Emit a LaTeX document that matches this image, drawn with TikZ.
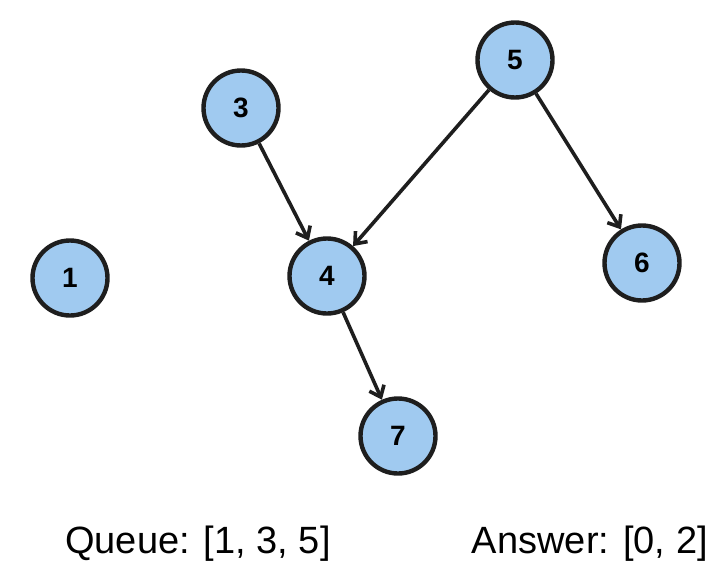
\documentclass[tikz,border=0pt]{standalone}
\usepackage{fontspec}
\setmainfont{Liberation Sans}
\usetikzlibrary{arrows.meta}

\definecolor{nodefill}{RGB}{160,202,240}
\definecolor{ink}{RGB}{30,30,30}

\begin{document}
\begin{tikzpicture}[x=1pt,y=-1pt,
    vertex/.style={circle, draw=ink, fill=nodefill, line width=4.4pt, minimum size=75pt, inner sep=0pt, font=\bfseries\fontsize{28}{30}\selectfont},
    edge/.style={draw=ink, line width=3.6pt, -{Straight Barb[length=10pt,width=16pt,line width=3.6pt]}}]
            \useasboundingbox (0,0) rectangle (719,570);

            \node[vertex] (n1) at (70,278) {1};
            \node[vertex] (n3) at (241,108) {3};
            \node[vertex] (n5) at (515,60) {5};
            \node[vertex] (n4) at (327,276) {4};
            \node[vertex] (n6) at (642,263) {6};
            \node[vertex] (n7) at (398,436) {7};

            \draw[edge] (n3) -- (n4);
            \draw[edge] (n5) -- (n4);
            \draw[edge] (n5) -- (n6);
            \draw[edge] (n4) -- (n7);

            \node[anchor=base west, inner sep=0pt, font=\fontsize{38}{40}\selectfont] (queue) at (65,553) {Queue: [1, 3, 5]};
            \node[anchor=base east, inner sep=0pt, font=\fontsize{38}{40}\selectfont] (answer) at (708,553) {Answer: [0, 2]};
        \end{tikzpicture}
\end{document}
